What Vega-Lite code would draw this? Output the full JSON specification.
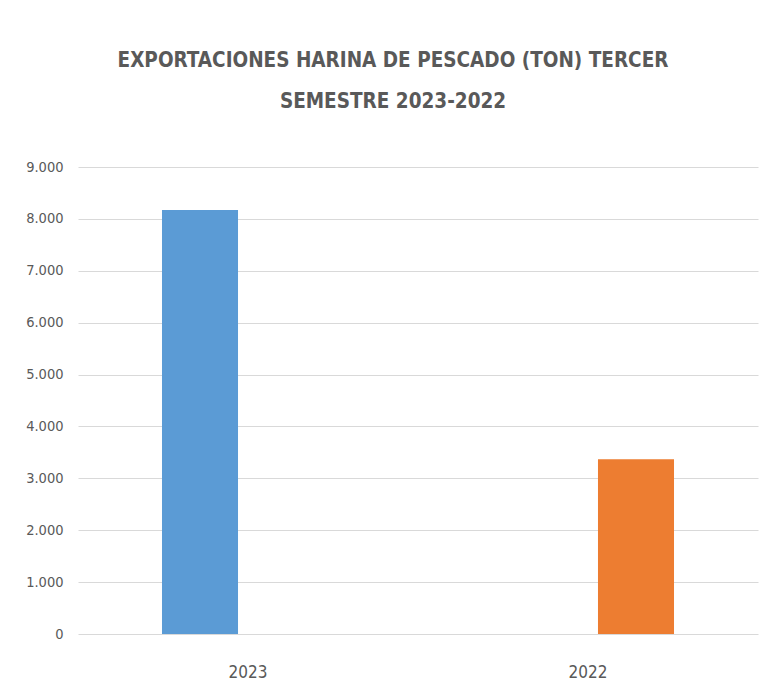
{
  "$schema": "https://vega.github.io/schema/vega-lite/v6.json",
  "width": 680,
  "height": 467,
  "autosize": {"type": "none"},
  "padding": {"left": 78, "top": 167, "right": 9, "bottom": 56},
  "background": "white",
  "config": {
    "locale": {"number": {"decimal": ",", "thousands": ".", "grouping": [3], "currency": ["$", ""]}},
    "view": {"stroke": null},
    "font": "DejaVu Sans Condensed, Open Sans, sans-serif"
  },
  "title": {
    "text": ["EXPORTACIONES HARINA DE PESCADO  (TON) TERCER", "SEMESTRE 2023-2022"],
    "font": "DejaVu Sans Condensed, Open Sans, sans-serif",
    "fontSize": 20.5,
    "fontWeight": "bold",
    "color": "#595959",
    "anchor": "middle",
    "lineHeight": 41,
    "offset": 47,
    "dx": -25
  },
  "data": {
    "values": [
      {"year": "2023", "series": "2023", "value": 8170},
      {"year": "2022", "series": "2022", "value": 3370}
    ]
  },
  "mark": {"type": "bar"},
  "encoding": {
    "x": {
      "field": "year",
      "type": "nominal",
      "sort": ["2023", "2022"],
      "scale": {"domain": ["2023", "2022"], "paddingInner": 0, "paddingOuter": 0},
      "axis": {
        "title": null,
        "labelAngle": 0,
        "domain": false,
        "ticks": false,
        "labelFontSize": 17,
        "labelColor": "#595959",
        "labelPadding": 30,
        "labelFont": "DejaVu Sans Condensed, Open Sans, sans-serif"
      }
    },
    "xOffset": {
      "field": "series",
      "type": "nominal",
      "scale": {"domain": ["2023", "2022"], "paddingInner": 0.208, "paddingOuter": 0.875}
    },
    "y": {
      "field": "value",
      "type": "quantitative",
      "scale": {"domain": [0, 9000], "nice": false},
      "axis": {
        "title": null,
        "values": [0, 1000, 2000, 3000, 4000, 5000, 6000, 7000, 8000, 9000],
        "format": ",d",
        "domain": false,
        "ticks": false,
        "gridColor": "#d9d9d9",
        "gridWidth": 1,
        "labelFontSize": 14.5,
        "labelColor": "#595959",
        "labelPadding": 15,
        "labelFont": "DejaVu Sans Condensed, Open Sans, sans-serif"
      }
    },
    "color": {
      "field": "series",
      "type": "nominal",
      "scale": {"domain": ["2023", "2022"], "range": ["#5B9BD5", "#ED7D31"]},
      "legend": null
    }
  }
}
